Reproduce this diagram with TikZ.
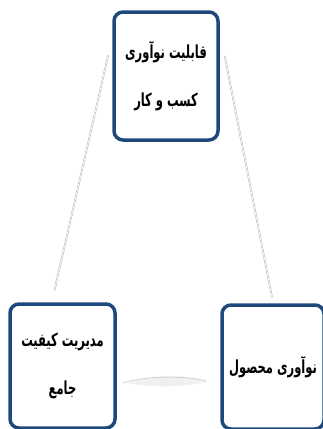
\documentclass[tikz,border=0pt]{standalone}
\usepackage{fontspec}
\newfontfamily\arabicfont[Script=Arabic,FakeStretch=0.64]{DejaVu Sans}
\TeXXeTstate=1
\usetikzlibrary{calc}
\definecolor{boxblue}{RGB}{31,73,125}
\begin{document}
\begin{tikzpicture}[x=1pt,y=-1pt,
  box/.style={draw=boxblue, line width=3.5pt, rounded corners=9pt, fill=white,
    align=center, inner sep=0pt,
    font=\arabicfont\bfseries\fontsize{18}{48}\selectfont},
  link/.style={draw=gray!55, double=white, double distance=0.7pt, line width=0.5pt}]
\useasboundingbox (0,0) rectangle (322,429);
\fill[white] (0,0) rectangle (322,429);
\node[box, minimum width=104pt, minimum height=128pt] (top) at (166,76)
  {\beginR قابلیت نوآوری\endR\\ \beginR کسب و کار\endR};
\node[box, minimum width=105pt, minimum height=124pt] (lb) at (62.5,366)
  {\beginR مدیریت کیفیت\endR\\ \beginR جامع\endR};
\node[box, minimum width=102pt, minimum height=124pt] (rb) at (273,367)
  {\beginR نوآوری محصول\endR};
\draw[link] ([xshift=-4pt,yshift=21pt]top.west) -- ([xshift=-8pt,yshift=12pt]lb.north);
\draw[link] ([xshift=5pt,yshift=20pt]top.east) -- ([xshift=-1pt,yshift=6pt]rb.north);
\fill[gray!12] ($(lb.east)+(10,17)$) .. controls ($(lb.east)+(40,8)$) and ($(rb.west)+(-40,7)$) .. ($(rb.west)+(-12,15)$)
  .. controls ($(rb.west)+(-40,20)$) and ($(lb.east)+(40,22)$) .. cycle;
\draw[gray!45, line width=0.6pt] ($(lb.east)+(6,17)$) .. controls ($(lb.east)+(30,9)$) and ($(rb.west)+(-30,9)$) .. ($(rb.west)+(-14,14)$);
\end{tikzpicture}
\end{document}
